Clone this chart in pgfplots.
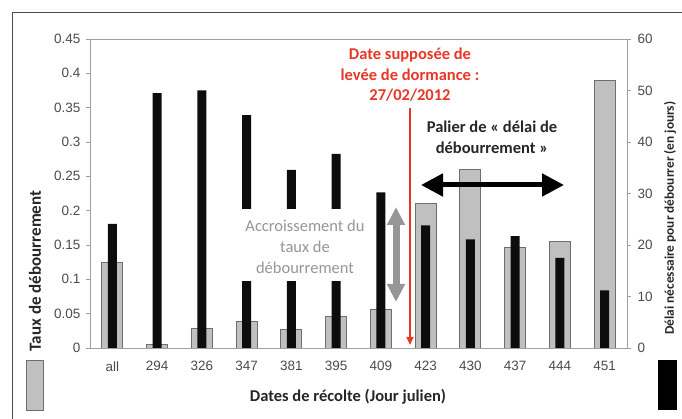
\documentclass[border=0pt]{standalone}
\usepackage{pgfplots}
\pgfplotsset{compat=1.18}
\usepackage{fontspec}
\setmainfont{Carlito}
\newfontfamily\tickfont{Liberation Sans}
\usetikzlibrary{arrows.meta}
\definecolor{barg}{RGB}{192,192,192}
\definecolor{barge}{RGB}{110,110,110}
\definecolor{axg}{RGB}{160,160,160}
\definecolor{redt}{RGB}{232,55,40}
\definecolor{txtg}{RGB}{150,150,150}
\definecolor{tickc}{RGB}{75,75,75}
\pgfplotstableread{
x taux
0 0.125
1 0.005
2 0.028
3 0.038
4 0.027
5 0.046
6 0.056
7 0.21
8 0.26
9 0.146
10 0.155
11 0.39
}\tauxdata
\pgfplotstableread{
x delai
0 24.1
1 49.5
2 50
3 45.2
4 34.6
5 37.7
6 30.2
7 23.8
8 21.1
9 21.7
10 17.5
11 11.2
}\delaidata
\begin{document}
\begin{tikzpicture}[x=1pt,y=1pt]
\useasboundingbox (0,0) rectangle (682,419);
% frame
\draw[black!70, line width=0.8pt] (12,0) -- (12,407) -- (682,407);
\pgfplotsset{
  common/.style={
    at={(90pt,71pt)}, anchor=south west,
    width=537pt, height=309pt, scale only axis,
    xmin=-0.5, xmax=11.5,
    axis line style={axg, line width=0.8pt},
    tick style={axg, line width=0.8pt},
    tick align=outside,
    major tick length=4pt,
    ticklabel style={font=\tickfont\fontsize{13.5}{15}\selectfont, text=tickc},
    /pgf/number format/assume math mode=true,
  }
}
\begin{axis}[common,
  ymin=0, ymax=0.45,
  axis y line*=left,
  xtick={0,...,11},
  xticklabels={all,294,326,347,381,395,409,423,430,437,444,451},
  xtick style={draw=none},
  minor xtick={0.5,1.5,...,10.5},
  minor tick length=4pt,
  minor x tick style={axg, line width=0.8pt},
  ytick={0,0.05,0.1,0.15,0.2,0.25,0.3,0.35,0.4,0.45},
  yticklabels={0,0.05,0.1,0.15,0.2,0.25,0.3,0.35,0.4,0.45},
  xticklabel style={yshift=-6pt},
  yticklabel style={xshift=-2pt},
]
\addplot[ybar, bar width=21pt, fill=barg, draw=barge, line width=0.9pt] table[x=x,y=taux]{\tauxdata};
\draw[axg, line width=0.8pt] (rel axis cs:0,1) -- (rel axis cs:1,1);
\end{axis}
\begin{axis}[common,
  ymin=0, ymax=60,
  axis y line*=right,
  axis x line=none,
  ytick={0,10,...,60},
  yticklabel style={xshift=3pt},
]
\addplot[ybar, bar width=9pt, fill=black!95, draw=none] table[x=x,y=delai]{\delaidata};
\end{axis}
% annotations
\node[fill=white, inner sep=0pt, minimum width=137pt, minimum height=72pt] at (306.5,174) {};
\node[text=txtg, align=center, font=\fontsize{16.5}{21}\selectfont] at (305,172) {Accroissement du\\taux de\\débourrement};
\draw[txtg, line width=7pt, {Triangle[length=18pt,width=17pt]}-{Triangle[length=18pt,width=17pt]}] (396,117) -- (396,212);
\draw[redt, line width=1.6pt, -{Triangle[length=8pt,width=7pt]}] (410,311) -- (410,74);
\node[text=redt, align=center, font=\bfseries\fontsize{16.5}{20.5}\selectfont] at (410,344) {Date supposée de\\levée de dormance :\\27/02/2012};
\node[text=black!85, align=center, font=\bfseries\fontsize{16.5}{21}\selectfont] at (492,282) {Palier de « délai de\\débourrement »};
\draw[black, line width=5pt, {Triangle[length=22pt,width=22pt]}-{Triangle[length=22pt,width=22pt]}] (421,234) -- (564,234);
% axis titles
\node[rotate=90, font=\bfseries\fontsize{17}{19}\selectfont, text=black!85] at (35,148) {Taux de débourrement};
\node[rotate=90, font=\bfseries\fontsize{13.3}{15}\selectfont, text=black!85] at (670,201) {Délai nécessaire pour débourrer (en jours)};
\node[font=\bfseries\fontsize{16.5}{18}\selectfont, text=black!85] at (348,22) {Dates de récolte (Jour julien)};
% legend keys
\draw[fill=barg, draw=barge, line width=0.9pt] (26,9) rectangle (43,59);
\fill[black] (658,9) rectangle (677,59);
\end{tikzpicture}
\end{document}
